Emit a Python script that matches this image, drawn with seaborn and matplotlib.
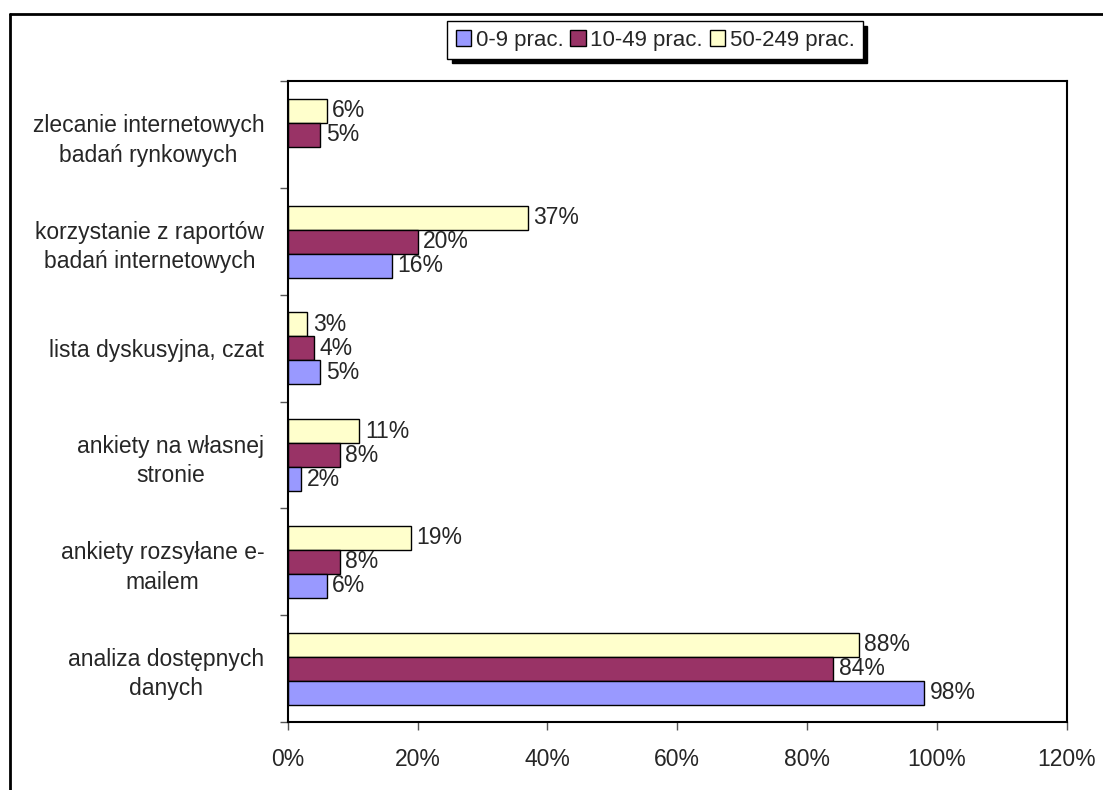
import pandas as pd
import matplotlib.pyplot as plt
import seaborn as sns
from matplotlib.lines import Line2D
from matplotlib.patches import Patch
from matplotlib.ticker import FixedLocator

# dane
categories = ['zlecanie internetowych\nbadań rynkowych',
              'korzystanie z raportów\nbadań internetowych',
              'lista dyskusyjna, czat',
              'ankiety na własnej\nstronie',
              'ankiety rozsyłane e-\nmailem',
              'analiza dostępnych\ndanych']
groups = ['0-9 prac.', '10-49 prac.', '50-249 prac.']
small = [None, 16, 5, 2, 6, 98]      # 0-9 prac. (brak słupka w pierwszej kategorii)
medium = [5, 20, 4, 8, 8, 84]        # 10-49 prac.
large = [6, 37, 3, 11, 19, 88]       # 50-249 prac.
colors = {'0-9 prac.': '#9999FF', '10-49 prac.': '#993366', '50-249 prac.': '#FFFFCC'}
x_ticks = [0, 20, 40, 60, 80, 100, 120]

rows = []
for g, vals in zip(groups, [small, medium, large]):
    for c, v in zip(categories, vals):
        if v is not None:
            rows.append({'kategoria': c, 'grupa': g, 'wartosc': v})
df = pd.DataFrame(rows)

sns.set_style('white')
plt.rcParams['font.family'] = ['Liberation Sans', 'DejaVu Sans']
plt.rcParams['font.size'] = 16.5

fig = plt.figure(figsize=(11.03, 7.9), dpi=100)
ax = fig.add_axes([0.261, 0.086, 0.706, 0.811])

sns.barplot(data=df, x='wartosc', y='kategoria', hue='grupa', order=categories,
            hue_order=['50-249 prac.', '10-49 prac.', '0-9 prac.'], palette=colors,
            saturation=1, width=0.675, edgecolor='black', linewidth=1, legend=False, ax=ax)

for cont in ax.containers:
    ax.bar_label(cont, fmt='{:.0f}%', padding=4, fontsize=16.5)

ax.set_xlim(0, 120)
ax.set_ylim(5.5, -0.5)
ax.set_xticks(x_ticks)
ax.set_xticklabels([f'{t}%' for t in x_ticks])
ax.set_xlabel('')
ax.set_ylabel('')
ax.yaxis.set_minor_locator(FixedLocator([i - 0.5 for i in range(len(categories) + 1)]))
ax.tick_params(axis='y', which='major', length=0, pad=17)
ax.tick_params(axis='y', which='minor', length=6, width=1, color='#555555', left=True)
ax.tick_params(axis='x', length=6, width=1, color='#555555', pad=13, bottom=True)
for t in ax.get_yticklabels():
    t.set_multialignment('center')
    t.set_linespacing(1.35)
for s in ax.spines.values():
    s.set_visible(True)
    s.set_color('black')
    s.set_linewidth(1.5)

# legenda
handles = [Patch(facecolor=colors[g], edgecolor='black', linewidth=1) for g in groups]
fig.legend(handles, groups, loc='center', bbox_to_anchor=(0.594, 0.949), ncol=3,
           frameon=True, fancybox=False, framealpha=1, edgecolor='black',
           shadow={'ox': 3, 'oy': -3, 'color': 'black', 'alpha': 1},
           handlelength=0.7, handleheight=0.7, handletextpad=0.2, columnspacing=0.3,
           borderpad=0.38, borderaxespad=0, fontsize=16)

# ramka wykresu
fig.add_artist(Line2D([0.009, 1.0], [0.982, 0.982], color='black', linewidth=2))
fig.add_artist(Line2D([0.009, 0.009], [0.0, 0.982], color='black', linewidth=2))

fig.savefig('out.png', dpi=100)
